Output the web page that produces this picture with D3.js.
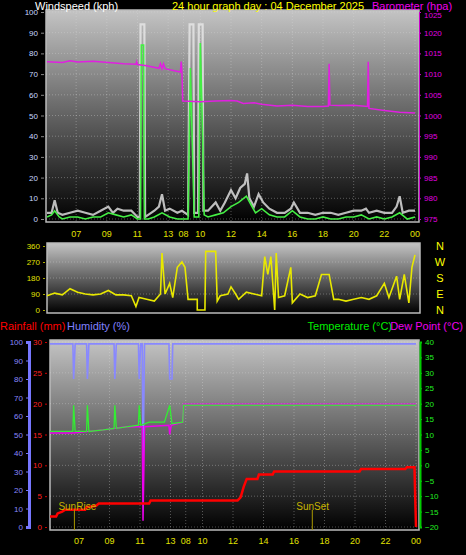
<!DOCTYPE html>
<html>
<head>
<script src="https://d3js.org/d3.v7.min.js"></script>
<style>
  body { margin: 0; background: #000; overflow: hidden; }
  text { font-family: "Liberation Sans", Arial, sans-serif; }
</style>
</head>
<body>
<svg id="chart" width="466" height="555"></svg>
<script>
// ---- data (time in hour slots across the graph) ----
const tickPos = [1.9, 3.9, 5.9, 7.9, 8.9, 10, 12, 14, 16, 18, 20, 22, 24];
const tickLabels = ['07','09','11','13','08','10','12','14','16','18','20','22','00'];

const gust = [[0,3],[0.3,3],[0.5,9],[0.7,3],[1,2],[1.5,3],[2,4],[2.5,3],[3,2],[3.5,4],[4,6],[4.3,3],[4.6,5],[5,4],[5.5,4],[5.9,1],
  [6.05,1],[6.1,94],[6.35,94],[6.4,1],[6.6,2],[7,4],[7.3,6],[7.5,12],[7.7,4],[8,5],[8.5,3],[8.8,4],[9.2,2],[9.3,94],[9.55,94],[9.6,3],
  [9.85,3],[9.9,94],[10.15,94],[10.2,4],[10.5,4],[11,8],[11.3,4],[11.6,8],[12,14],[12.3,10],[12.6,15],[12.9,17],[13.05,22],[13.2,10],
  [13.5,6],[13.8,12],[14.1,8],[14.5,5],[15,3],[15.5,3],[15.9,5],[16.1,8],[16.5,3],[17,3],[17.5,2],[18,3],[18.5,3],[19,2],[19.5,3],
  [20,4],[20.5,4],[20.8,5],[21,3],[21.5,4],[22,3],[22.5,3],[22.8,6],[23,11],[23.2,3],[23.6,4],[24,4]];
const avg = [[0,1],[0.3,2],[0.5,4],[0.8,1],[1,0],[1.5,1],[2,1],[2.5,0],[3,1],[3.5,1],[4,3],[4.5,2],[5,1],[5.5,2],[5.9,0],
  [6.1,0],[6.15,84],[6.3,84],[6.35,0],[6.6,0],[7,1],[7.5,3],[8,1],[8.5,0],[9.2,0],[9.35,73],[9.5,30],[9.6,1],[9.9,1],[10.0,85],[10.15,40],[10.25,2],
  [10.5,1],[11,2],[11.5,3],[12,6],[12.5,8],[13,11],[13.3,7],[13.6,3],[14,5],[14.5,2],[15,1],[15.5,1],[16,4],[16.5,1],[17,0],[17.5,0],
  [18,1],[18.5,0],[19,0],[19.5,1],[20,1],[20.5,2],[21,0],[21.5,1],[22,0],[22.5,1],[23,3],[23.5,0],[24,1]];
const baro = [[0,1013],[1,1012.8],[1.5,1013.2],[2,1012.9],[3,1013.1],[4,1012.8],[5,1012.5],[5.8,1012.4],[5.85,1013],[5.9,1012.3],
  [6.5,1012],[7.3,1011.4],[7.4,1012.5],[7.5,1011.3],[7.6,1012.5],[7.7,1011.3],[8.3,1010.8],[8.7,1010.5],[8.75,1013],[8.8,1010.5],
  [8.85,1003.5],[10,1003.3],[11,1003.5],[12,1003.6],[12.4,1003.5],[12.8,1002.9],[13.5,1003.1],[14,1002.7],[15,1002.3],[16,1002.5],
  [17,1002.2],[18,1002.2],[18.35,1002.3],[18.4,1012.5],[18.45,1002.5],[19,1002.4],[20,1002.5],[20.9,1002.2],[20.95,1013],[21.0,1001.7],
  [22,1001.2],[23,1000.8],[24,1000.6]];
const windDir = [[0,80],[0.5,95],[1,85],[1.5,120],[2,100],[2.5,90],[3,85],[3.5,90],[4,110],[4.5,85],[5,85],[5.5,80],[5.8,20],[6,70],
  [6.5,60],[7,50],[7.4,90],[7.5,320],[7.7,90],[8,150],[8.2,70],[8.5,240],[8.8,270],[9,240],[9.2,60],[9.8,60],[9.8,0],[10.3,0],
  [10.35,330],[11,330],[11.1,50],[11.3,80],[11.8,90],[12,130],[12.3,90],[12.5,60],[13,100],[13.5,90],[14,80],[14.2,300],[14.4,200],
  [14.6,300],[14.85,0],[14.95,320],[15.1,70],[15.5,80],[15.9,240],[16,40],[16.5,90],[17,70],[17.5,80],[17.9,200],[18.4,200],[18.7,60],
  [19,60],[19.5,50],[20,60],[20.5,70],[21,60],[21.5,80],[22,150],[22.3,70],[22.8,190],[23,60],[23.3,200],[23.6,40],[23.8,240],[24,310]];
const humidity = [[0,99],[1.5,99],[1.55,80],[1.65,99],[2.4,99],[2.45,80],[2.55,99],[4.2,99],[4.25,80],[4.35,99],[5.8,99],[5.85,80],
  [5.95,99],[6.05,99],[6.1,30],[6.2,99],[7.8,99],[7.85,80],[8.0,80],[8.05,99],[24,99]];
const temperature = [[0,11],[1.5,11],[1.55,19.5],[1.65,11],[2.4,11],[2.45,19.5],[2.55,11],[3.5,11.5],[4.2,12],[4.25,19.5],[4.35,12],
  [5,12.5],[5.8,13],[5.85,19.5],[5.95,13],[6.5,14],[7.5,14],[7.85,19.5],[8,13.5],[8.7,14],[8.75,19.5],[24,19.5]];
const dewPoint = [[0,10.5],[1.5,10.5],[3.5,11.5],[5,12.5],[5.9,12.5],[6.05,12.5],[6.1,-18],[6.2,12.5],[7.8,13],[7.85,10],[7.95,13],[8.7,14],[8.75,19.8],[24,19.8]];
const rain = [[0,1.7],[0.4,1.7],[0.5,2.2],[0.8,2.5],[1.0,2.8],[2.3,2.8],[2.4,3.2],[3,3.4],[3.2,3.8],[6.5,3.8],[6.6,4.3],[12.3,4.3],
  [12.5,4.8],[12.7,6.5],[12.9,7.8],[13.6,7.8],[13.7,8.5],[14.6,8.5],[14.7,9.0],[20.3,9.0],[20.4,9.4],[23.3,9.4],[23.4,9.7],[23.9,9.7],[24,0]];

const svg = d3.select('#chart');
const defs = svg.append('defs');
const grad = defs.append('linearGradient').attr('id', 'bg').attr('x1', 0).attr('y1', 0).attr('x2', 0).attr('y2', 1);
grad.append('stop').attr('offset', '0%').attr('stop-color', '#c4c4c4');
grad.append('stop').attr('offset', '100%').attr('stop-color', '#000');

function panel(x0, x1, y0, y1) {
  svg.append('rect').attr('x', x0).attr('y', y0).attr('width', x1 - x0).attr('height', y1 - y0)
    .attr('fill', 'url(#bg)').attr('stroke', '#bbb').attr('stroke-width', 1.5);
}
function vgrid(x, y0, y1) {
  svg.append('g').selectAll('line').data(tickPos).join('line')
    .attr('x1', d => x(d)).attr('x2', d => x(d)).attr('y1', y0).attr('y2', y1)
    .attr('stroke', '#ddd').attr('stroke-opacity', 0.35).attr('stroke-dasharray', '1,2');
}
function hgrid(y, vals, x0, x1) {
  svg.append('g').selectAll('line').data(vals).join('line')
    .attr('x1', x0).attr('x2', x1).attr('y1', d => y(d)).attr('y2', d => y(d))
    .attr('stroke', '#ddd').attr('stroke-opacity', 0.35).attr('stroke-dasharray', '1,2');
}
function xlabels(x, yy) {
  svg.append('g').selectAll('text').data(tickPos).join('text')
    .attr('x', d => x(d)).attr('y', yy).attr('text-anchor', 'middle')
    .attr('fill', '#e0e000').attr('font-size', 9).text((d, i) => tickLabels[i]);
}
function path(data, x, y, color, w, op) {
  svg.append('path').datum(data).attr('fill', 'none').attr('stroke', color).attr('stroke-width', w)
    .attr('stroke-opacity', op || 1)
    .attr('d', d3.line().x(d => x(d[0])).y(d => y(d[1])));
}
function label(x, y, txt, color, anchor, size) {
  svg.append('text').attr('x', x).attr('y', y).attr('fill', color).attr('font-size', size || 11)
    .attr('text-anchor', anchor || 'start').text(txt);
}

// ---- panel 1: wind & barometer ----
const x1 = d3.scaleLinear().domain([0, 24]).range([47, 415]);
const yW = d3.scaleLinear().domain([0, 100]).range([219, 12]);
const yB = d3.scaleLinear().domain([975, 1025]).range([219, 12]);
panel(46, 419, 10, 222);
hgrid(yW, d3.range(0, 101, 10), 46, 419);
vgrid(x1, 10, 222);
svg.append('g').attr('transform', 'translate(44,0)')
  .call(d3.axisLeft(yW).tickValues(d3.range(0, 101, 10)).tickSize(3))
  .call(g => { g.select('.domain').remove(); g.selectAll('line').attr('stroke', '#888');
    g.selectAll('text').attr('fill', '#c8d8ff').attr('font-size', 8); });
svg.append('g').attr('transform', 'translate(419,0)')
  .call(d3.axisRight(yB).tickValues(d3.range(975, 1026, 5)).tickSize(2).tickFormat(d3.format('d')))
  .call(g => { g.select('.domain').attr('stroke', '#c0c'); g.selectAll('line').attr('stroke', '#c0c');
    g.selectAll('text').attr('fill', '#e000e0').attr('font-size', 8)
      .attr('dy', d => d === 1025 ? '0.7em' : '0.32em'); });
xlabels(x1, 237);
path(gust, x1, yW, '#e8e8e8', 2.2, 0.8);
path(avg, x1, yW, '#44ee44', 1.6);
path(baro, x1, yB, '#e020e0', 1.5);
label(35, 10, 'Windspeed (kph)', '#fff', 'start', 11);
label(172, 10, '24 hour graph day : 04 December 2025', '#ffff00', 'start', 11);
label(372, 10, 'Barometer (hpa)', '#ee00ee', 'start', 11);

// ---- panel 2: wind direction ----
const yD = d3.scaleLinear().domain([0, 360]).range([310, 246]);
panel(47, 420, 243, 313);
hgrid(yD, [90, 180, 270], 47, 420);
svg.append('g').attr('transform', 'translate(45,0)')
  .call(d3.axisLeft(yD).tickValues([0, 90, 180, 270, 360]).tickSize(2))
  .call(g => { g.select('.domain').remove(); g.selectAll('line').attr('stroke', '#aa0');
    g.selectAll('text').attr('fill', '#e0e000').attr('font-size', 8); });
path(windDir, x1, yD, '#e8e800', 1.6);
['N','W','S','E','N'].forEach((c, i) => {
  label(440, yD(360 - i * 90) + 4, c, '#ffff00', 'middle', 11);
});

// ---- panel 3: rain, humidity, temperature, dew point ----
const x3 = d3.scaleLinear().domain([0, 24]).range([50, 416]);
const yH = d3.scaleLinear().domain([0, 100]).range([527, 342]);
const yR = d3.scaleLinear().domain([0, 30]).range([527, 342]);
const yT = d3.scaleLinear().domain([-20, 40]).range([527, 342]);
panel(50, 419, 340, 530);
hgrid(yR, d3.range(0, 31, 5), 50, 419);
vgrid(x3, 340, 530);
svg.append('g').attr('transform', 'translate(29,0)')
  .call(d3.axisLeft(yH).tickValues(d3.range(0, 101, 10)).tickSize(3))
  .call(g => { g.select('.domain').attr('stroke', '#7777ff').attr('stroke-width', 3);
    g.selectAll('line').attr('stroke', '#7777ff');
    g.selectAll('text').attr('fill', '#8888ff').attr('font-size', 8); });
svg.append('g').attr('transform', 'translate(47,0)')
  .call(d3.axisLeft(yR).tickValues(d3.range(0, 31, 5)).tickSize(2))
  .call(g => { g.select('.domain').remove(); g.selectAll('line').attr('stroke', '#c00');
    g.selectAll('text').attr('fill', '#ff2020').attr('font-size', 8); });
svg.append('g').attr('transform', 'translate(420,0)')
  .call(d3.axisRight(yT).tickValues(d3.range(-20, 41, 5)).tickSize(2).tickFormat(d3.format('d')))
  .call(g => { g.select('.domain').attr('stroke', '#0c0').attr('stroke-width', 2);
    g.selectAll('line').attr('stroke', '#0c0');
    g.selectAll('text').attr('fill', '#20ee20').attr('font-size', 8); });
xlabels(x3, 544);
path(humidity, x3, yH, '#8888ff', 1.6);
path(dewPoint, x3, yT, '#ee00ee', 1.5);
path(temperature, x3, yT, '#33ee33', 1.3);
path(rain, x3, yR, '#ff0000', 2.5);
label(0, 330, 'Rainfall (mm)', '#ff0000', 'start', 11);
label(67, 330, 'Humidity (%)', '#8080ff', 'start', 11);
label(392, 330, 'Temperature (°C)', '#00ee00', 'end', 11);
label(463, 330, 'Dew Point (°C)', '#ee00ee', 'end', 11);
[[1.6, 'SunRise'], [17.2, 'SunSet']].forEach(([t, s]) => {
  svg.append('line').attr('x1', x3(t)).attr('x2', x3(t)).attr('y1', 510).attr('y2', 530).attr('stroke', '#aa9900');
  label(x3(t) - 16, 510, s, '#c8b400', 'start', 10);
});
</script>
</body>
</html>
